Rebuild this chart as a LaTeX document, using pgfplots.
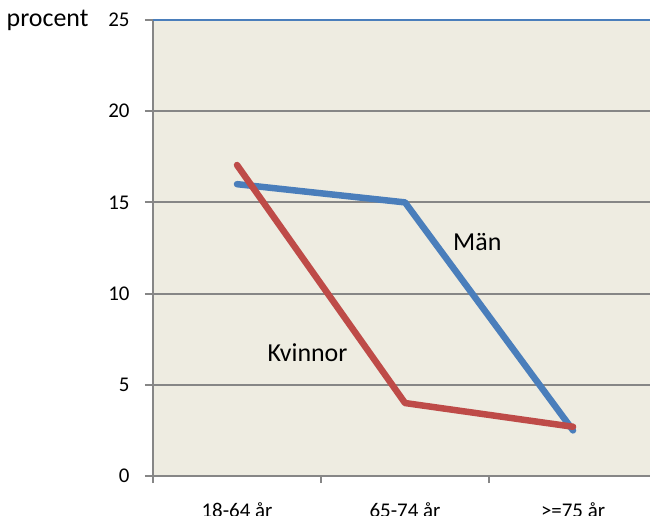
\documentclass[border=0pt]{standalone}
\usepackage{pgfplots}
\pgfplotsset{compat=1.18}
\usepackage{fontspec}
\setmainfont{Carlito}
\definecolor{bgc}{HTML}{EEECE1}
\definecolor{mblue}{HTML}{4A7EBB}
\definecolor{kred}{HTML}{BE4B48}
\definecolor{gridc}{HTML}{868686}
\begin{document}
\begin{tikzpicture}
\useasboundingbox (-153bp,-49bp) rectangle (497bp,476bp);
\clip (-153bp,-39bp) rectangle (497bp,476bp);
\begin{axis}[
  at={(0,0)}, anchor=south west,
  scale only axis, width=497bp, height=456bp,
  xmin=-0.5, xmax=2.458, ymin=0, ymax=25,
  axis background/.style={fill=bgc},
  axis x line*=bottom, axis y line*=left,
  axis line style={-, draw=gridc, line width=2bp},
  /pgf/number format/assume math mode=true,
  ticklabel style={font=\fontsize{21}{21}\selectfont},
  ytick={0,5,10,15,20},
  extra y ticks={25},
  extra y tick style={grid style={draw=mblue, line width=2.8bp}},
  ymajorgrids, grid style={draw=gridc, line width=2bp},
  xtick={0,1,2}, xticklabels={18-64 år, 65-74 år, >=75 år},
  minor xtick={-0.5,0.5,1.5,2.5},
  major x tick style={draw=none},
  minor x tick style={draw=gridc, line width=2bp},
  major y tick style={draw=gridc, line width=2bp},
  tick align=outside,
  major tick length=8bp, minor tick length=7bp,
  xticklabel style={anchor=base, yshift=-33bp},
  yticklabel style={anchor=east, xshift=-12bp},
  clip=false,
]
\addplot[mblue, line width=6.5bp, line join=round, line cap=round] coordinates {(0,16) (1,15) (2,2.5)};
\addplot[kred, line width=6.5bp, line join=round, line cap=round] coordinates {(0,17.05) (1,4) (2,2.7)};
\node[font=\fontsize{26}{26}\selectfont] at (axis cs:1.43,12.83) {Män};
\node[font=\fontsize{26}{26}\selectfont] at (axis cs:0.42,6.74) {Kvinnor};
\node[font=\fontsize{26}{26}\selectfont, anchor=base east] at ([xshift=-61bp,yshift=-7bp]rel axis cs:0,1) {procent};
\end{axis}
\end{tikzpicture}
\end{document}
